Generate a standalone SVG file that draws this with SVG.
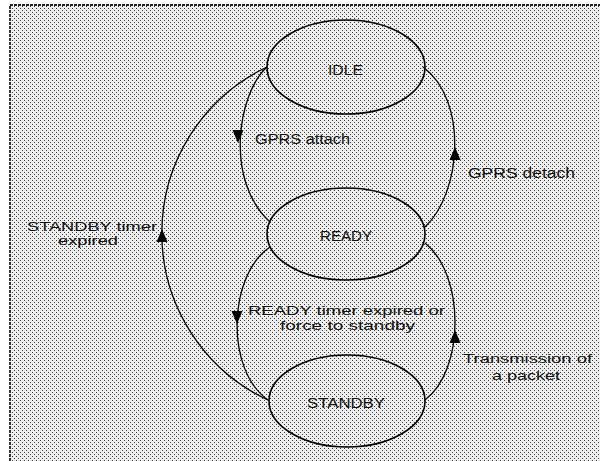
<svg xmlns="http://www.w3.org/2000/svg" xmlns:xlink="http://www.w3.org/1999/xlink" width="600" height="461" viewBox="0 0 600 461">
  <style>
    .state { fill: none; stroke: #000; stroke-width: 1.6; }
    .edge { fill: none; stroke: #000; stroke-width: 1.3; }
    .label { font-family: "Liberation Sans", Arial, sans-serif; font-size: 14px; fill: #111; text-anchor: middle; }
    .label.stacked { font-size: 12.5px; }
    .frame { fill: none; stroke: #222; stroke-width: 1.8; stroke-dasharray: 3 1; }
  </style>
  <defs>
    <!-- halftone screen used for the panel background -->
    <pattern id="screen" width="4" height="4" patternUnits="userSpaceOnUse">
      <rect width="4" height="4" fill="#eeeeee"/>
      <rect x="0" y="0" width="1" height="1" fill="#3a3a3a"/>
      <rect x="2" y="2" width="1" height="1" fill="#3a3a3a"/>
    </pattern>
    <!-- filled arrowhead, tip at origin, pointing down -->
    <path id="arrowhead" d="M0,0 L-5.5,-13 L5.5,-13 Z" fill="#000"/>
  </defs>

  <rect width="600" height="461" fill="#ffffff"/>
  <rect x="10" y="5" width="600" height="470" fill="url(#screen)"/>
  <rect x="10" y="5" width="600" height="470" class="frame"/>

  <g id="connectors">
    <!-- IDLE -> READY : GPRS attach -->
    <path class="edge" d="M267,67 C238,93 224,180 270,222"/>
    <use xlink:href="#arrowhead" transform="translate(238,143)"/>
    <text class="label" x="302.5" y="144" textLength="95" lengthAdjust="spacingAndGlyphs">GPRS attach</text>

    <!-- READY -> IDLE : GPRS detach -->
    <path class="edge" d="M425,227 C462,192 468,100 423,67"/>
    <use xlink:href="#arrowhead" transform="translate(455,147) rotate(180)"/>
    <text class="label" x="521.5" y="178" textLength="107" lengthAdjust="spacingAndGlyphs">GPRS detach</text>

    <!-- STANDBY -> IDLE : STANDBY timer expired -->
    <path class="edge" d="M268,400 A184,184 0 0 1 267,67"/>
    <use xlink:href="#arrowhead" transform="translate(162,229) rotate(180)"/>
    <text class="label stacked" x="92" y="231" textLength="130" lengthAdjust="spacingAndGlyphs">STANDBY timer</text>
    <text class="label stacked" x="88" y="245" textLength="60" lengthAdjust="spacingAndGlyphs">expired</text>

    <!-- READY -> STANDBY : READY timer expired or force to standby -->
    <path class="edge" d="M270,247 C228,275 225,370 268,400"/>
    <use xlink:href="#arrowhead" transform="translate(237,324)"/>
    <text class="label stacked" x="346.5" y="315" textLength="197" lengthAdjust="spacingAndGlyphs">READY timer expired or</text>
    <text class="label stacked" x="347.5" y="330" textLength="135" lengthAdjust="spacingAndGlyphs">force to standby</text>

    <!-- STANDBY -> READY : Transmission of a packet -->
    <path class="edge" d="M425,400 C465,370 465,275 425,243"/>
    <use xlink:href="#arrowhead" transform="translate(455,330) rotate(180)"/>
    <text class="label stacked" x="527.5" y="363" textLength="129" lengthAdjust="spacingAndGlyphs">Transmission of</text>
    <text class="label stacked" x="526" y="380" textLength="68" lengthAdjust="spacingAndGlyphs">a packet</text>
  </g>

  <g id="node-idle">
    <ellipse class="state" cx="346" cy="67" rx="79" ry="47"/>
    <text class="label" x="345.5" y="75" textLength="35" lengthAdjust="spacingAndGlyphs">IDLE</text>
  </g>

  <g id="node-ready">
    <ellipse class="state" cx="346" cy="234" rx="79" ry="46"/>
    <text class="label" x="346" y="241" textLength="52" lengthAdjust="spacingAndGlyphs">READY</text>
  </g>

  <g id="node-standby">
    <ellipse class="state" cx="347" cy="401" rx="78" ry="46"/>
    <text class="label" x="346" y="408" textLength="78" lengthAdjust="spacingAndGlyphs">STANDBY</text>
  </g>
</svg>
